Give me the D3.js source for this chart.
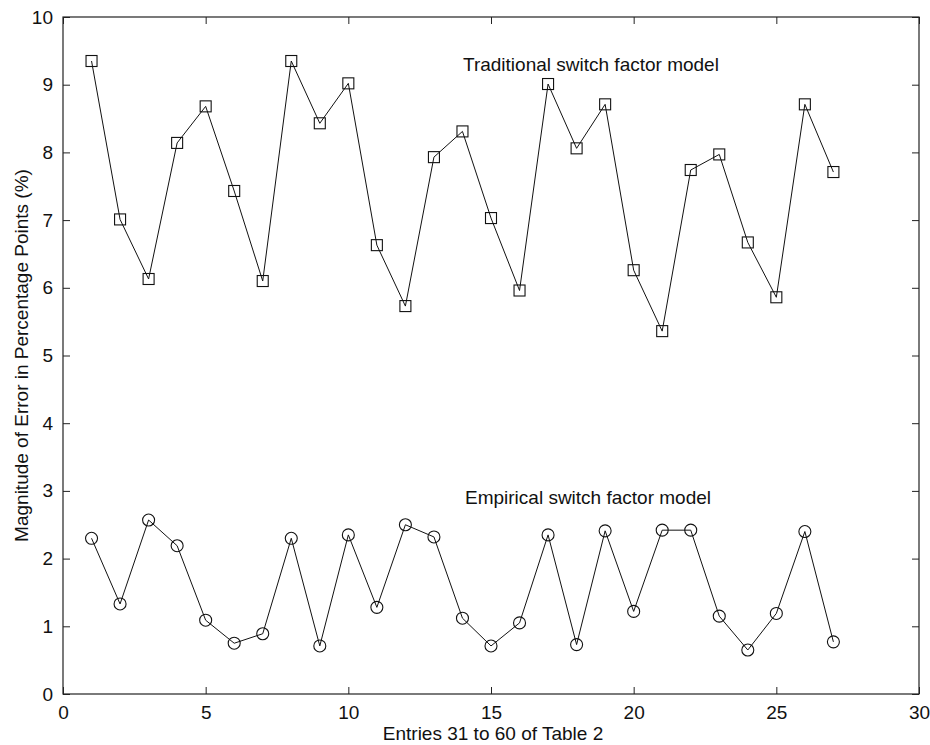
<!DOCTYPE html>
<html><head><meta charset="utf-8">
<script src="https://cdn.jsdelivr.net/npm/d3@7"></script>
<style>body{margin:0;background:#fff;} text{font-family:"Liberation Sans",Arial,sans-serif;fill:#111;}</style>
</head><body>
<svg id="c" width="930" height="745"></svg>
<script>
const entries = d3.range(1, 28);
const traditional = [9.35,7.01,6.13,8.14,8.68,7.43,6.10,9.35,8.43,9.02,6.63,5.73,7.93,8.31,7.03,5.96,9.01,8.06,8.71,6.26,5.36,7.74,7.97,6.67,5.86,8.71,7.71];
const empirical = [2.30,1.33,2.57,2.19,1.09,0.75,0.89,2.30,0.71,2.35,1.28,2.50,2.32,1.12,0.71,1.05,2.35,0.73,2.41,1.22,2.42,2.42,1.15,0.65,1.19,2.40,0.77];
const xTicks = [0,5,10,15,20,25,30];
const yTicks = [0,1,2,3,4,5,6,7,8,9,10];
const labelTrad = "Traditional switch factor model";
const labelEmp = "Empirical switch factor model";
const xTitle = "Entries 31 to 60 of Table 2";
const yTitle = "Magnitude of Error in Percentage Points (%)";

const svg = d3.select("#c");
const L=63, R=919, T=17, B=694;
const x = d3.scaleLinear().domain([0,30]).range([L,R]);
const y = d3.scaleLinear().domain([0,10]).range([B,T]);
const tl = 7;

const g = svg.append("g");
g.append("rect").attr("x",L).attr("y",T).attr("width",R-L).attr("height",B-T)
 .attr("fill","none").attr("stroke","#222").attr("stroke-width",1.2);

const ax = g.append("g").attr("transform",`translate(0,${B})`)
 .call(d3.axisBottom(x).tickValues(xTicks).tickSize(-tl).tickPadding(tl+5).tickFormat(d3.format("d")));
const axT = g.append("g").attr("transform",`translate(0,${T})`)
 .call(d3.axisTop(x).tickValues(xTicks).tickSize(-tl).tickFormat(""));
const ay = g.append("g").attr("transform",`translate(${L},0)`)
 .call(d3.axisLeft(y).tickValues(yTicks).tickSize(-tl).tickPadding(tl+3).tickFormat(d3.format("d")));
const ayR = g.append("g").attr("transform",`translate(${R},0)`)
 .call(d3.axisRight(y).tickValues(yTicks).tickSize(-tl).tickFormat(""));
[ax,axT,ay,ayR].forEach(a=>{a.select(".domain").remove(); a.selectAll("line").attr("stroke","#222"); a.selectAll("text").attr("font-size",19).attr("fill","#111").attr("font-family","Liberation Sans, Arial, sans-serif");});

const line = d3.line().x((d,i)=>x(entries[i])).y(d=>y(d));
g.append("path").datum(traditional).attr("d",line).attr("fill","none").attr("stroke","#111").attr("stroke-width",1);
g.append("path").datum(empirical).attr("d",line).attr("fill","none").attr("stroke","#111").attr("stroke-width",1);

const s=11;
g.selectAll("rect.m").data(traditional).join("rect").attr("class","m")
 .attr("x",(d,i)=>x(entries[i])-s/2).attr("y",d=>y(d)-s/2).attr("width",s).attr("height",s)
 .attr("fill","none").attr("stroke","#111").attr("stroke-width",1.1);
g.selectAll("circle.m").data(empirical).join("circle").attr("class","m")
 .attr("cx",(d,i)=>x(entries[i])).attr("cy",d=>y(d)).attr("r",6)
 .attr("fill","none").attr("stroke","#111").attr("stroke-width",1.1);

g.append("text").attr("x",463).attr("y",71).attr("font-size",19).text(labelTrad);
g.append("text").attr("x",465).attr("y",504).attr("font-size",19).text(labelEmp);

svg.append("text").attr("x",(L+R)/2 + 2).attr("y",740).attr("text-anchor","middle").attr("font-size",19).text(xTitle);
svg.append("text").attr("transform",`translate(28,${(T+B)/2}) rotate(-90)`).attr("text-anchor","middle").attr("font-size",19).text(yTitle);
</script>
</body></html>
